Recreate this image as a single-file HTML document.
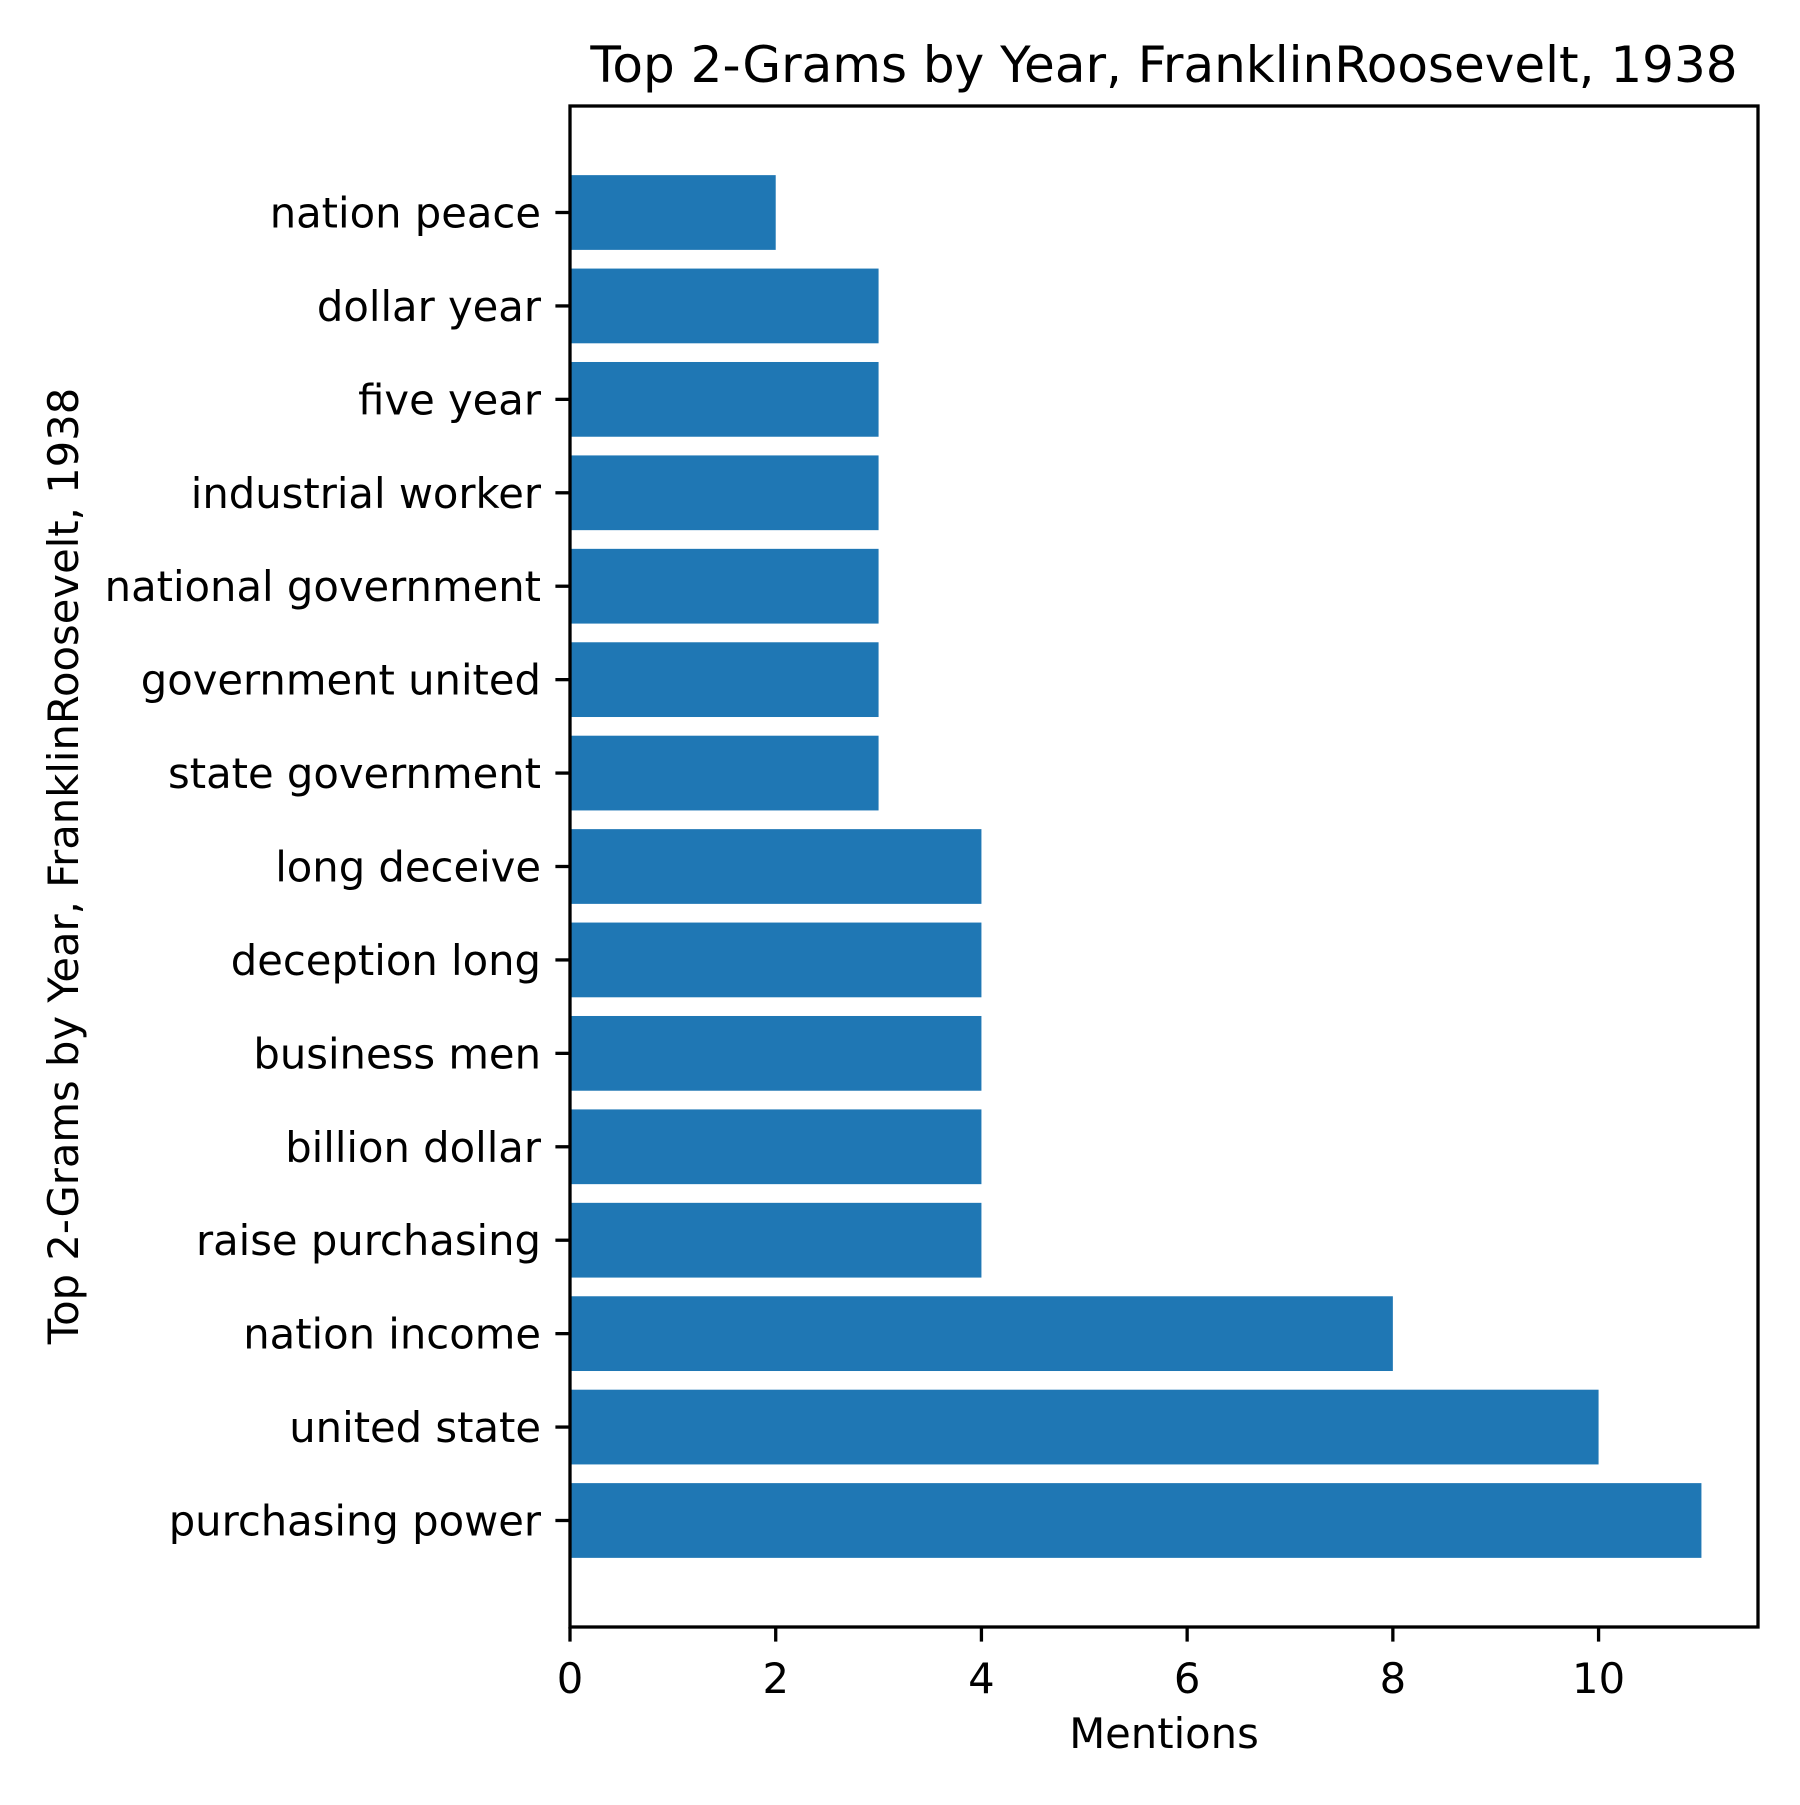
<!DOCTYPE html>
<html><head><meta charset="utf-8"><style>
html,body{margin:0;padding:0;background:#fff}
svg text{font-family:"DejaVu Sans","Liberation Sans",sans-serif;fill:#000}
</style></head><body>
<svg id="chart" width="1800" height="1800" xmlns="http://www.w3.org/2000/svg">
<rect width="1800" height="1800" fill="#fff"/>
<g id="bars"></g>
<g id="yticks"></g>
<g id="xticks"></g>
<rect x="570" y="106" width="1188" height="1521" fill="none" stroke="#000" stroke-width="3.3"/>
<text x="1164" y="82" font-size="50" text-anchor="middle">Top 2-Grams by Year, FranklinRoosevelt, 1938</text>
<text x="1164" y="1748" font-size="41.7" text-anchor="middle">Mentions</text>
<text transform="translate(78,866) rotate(-90)" font-size="41.7" text-anchor="middle">Top 2-Grams by Year, FranklinRoosevelt, 1938</text>
</svg>
<script>
const categories = ["purchasing power","united state","nation income","raise purchasing","billion dollar","business men","deception long","long deceive","state government","government united","national government","industrial worker","five year","dollar year","nation peace"];
const values = [11,10,8,4,4,4,4,4,3,3,3,3,3,3,2];
const xTickValues = [0,2,4,6,8,10];
const xTickLabels = ["0","2","4","6","8","10"];

const NS = "http://www.w3.org/2000/svg";
const L = 570, R = 1758, T = 106, B = 1627;
const xMin = 0, xMax = 11.55;
const yMin = -1.14, yMax = 15.14;
function xs(v){ return L + (v - xMin) / (xMax - xMin) * (R - L); }
function ys(v){ return B - (v - yMin) / (yMax - yMin) * (B - T); }
const unit = (B - T) / (yMax - yMin);

const gb = document.getElementById('bars');
const gy = document.getElementById('yticks');
const gx = document.getElementById('xticks');
categories.forEach((c, i) => {
  const r = document.createElementNS(NS, 'rect');
  
  
  r.setAttribute('x', xs(0));
  r.setAttribute('y', ys(i) - 0.4 * unit);
  r.setAttribute('width', xs(values[i]) - xs(0));
  r.setAttribute('height', 0.8 * unit);
  r.setAttribute('fill', '#1f77b4');
  gb.appendChild(r);
  const tk = document.createElementNS(NS, 'line');
  
  
  tk.setAttribute('x1', L - 14.6); tk.setAttribute('x2', L);
  tk.setAttribute('y1', ys(i)); tk.setAttribute('y2', ys(i));
  tk.setAttribute('stroke', '#000'); tk.setAttribute('stroke-width', 3.3);
  gy.appendChild(tk);
  const t = document.createElementNS(NS, 'text');
  
  
  t.setAttribute('x', L - 29);
  t.setAttribute('y', ys(i) + 15);
  t.setAttribute('font-size', 41.7);
  t.setAttribute('text-anchor', 'end');
  t.textContent = c;
  gy.appendChild(t);
});
xTickValues.forEach((v, i) => {
  const tk = document.createElementNS(NS, 'line');
  
  
  tk.setAttribute('x1', xs(v)); tk.setAttribute('x2', xs(v));
  tk.setAttribute('y1', B); tk.setAttribute('y2', B + 14.6);
  tk.setAttribute('stroke', '#000'); tk.setAttribute('stroke-width', 3.3);
  gx.appendChild(tk);
  const t = document.createElementNS(NS, 'text');
  
  
  t.setAttribute('x', xs(v));
  t.setAttribute('y', B + 66);
  t.setAttribute('font-size', 41.7);
  t.setAttribute('text-anchor', 'middle');
  t.textContent = xTickLabels[i];
  gx.appendChild(t);
});
</script>
</body></html>
